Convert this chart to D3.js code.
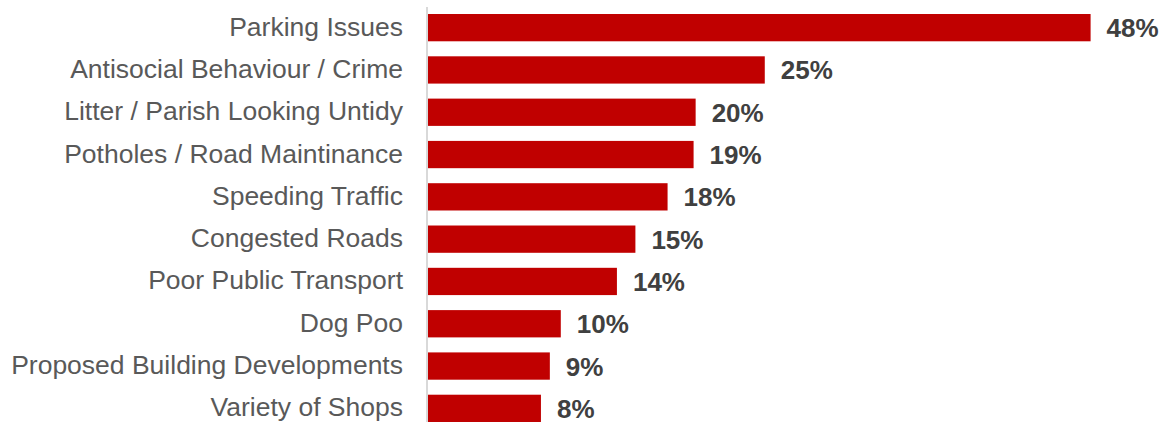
<!DOCTYPE html>
<html>
<head>
<meta charset="utf-8">
<script src="https://cdn.jsdelivr.net/npm/d3@7"></script>
<style>
  html, body { margin: 0; padding: 0; background: #fff; }
  svg { display: block; }
</style>
</head>
<body>
<svg id="chart" width="1161" height="422"></svg>
<script>
const categories = [
  "Parking Issues",
  "Antisocial Behaviour / Crime",
  "Litter / Parish Looking Untidy",
  "Potholes / Road Maintinance",
  "Speeding Traffic",
  "Congested Roads",
  "Poor Public Transport",
  "Dog Poo",
  "Proposed Building Developments",
  "Variety of Shops"
];
const values = [48.4, 24.6, 19.55, 19.4, 17.5, 15.15, 13.8, 9.7, 8.9, 8.25];

const W = 1161, H = 422;
const svg = d3.select("#chart");
const x0 = 428;
const x = d3.scaleLinear().domain([0, 50]).range([x0, x0 + 13.69 * 50]);
const y = d3.scaleBand().domain(categories).range([6.5, 429.5]).paddingInner(0.355).paddingOuter(0.1775);

const data = categories.map((c, i) => ({ c, v: values[i] }));

// bars
svg.append("g").selectAll("rect").data(data).join("rect")
  .attr("x", x(0))
  .attr("y", d => y(d.c))
  .attr("width", d => x(d.v) - x(0))
  .attr("height", y.bandwidth())
  .attr("fill", "#c00000");

// axis line
const yAxis = d3.axisLeft(y).tickSize(0).tickPadding(24);
const ag = svg.append("g").attr("transform", `translate(${x0 - 1},0)`).call(yAxis);
ag.select(".domain").attr("stroke", "#d9d9d9").attr("stroke-width", 2)
  .attr("d", `M0,7V${H}`);
ag.selectAll(".tick text")
  .attr("fill", "#595959")
  .attr("font-family", "Liberation Sans, Arial, sans-serif")
  .attr("font-size", "26.5px")
  .attr("dy", null)
  .attr("y", 8);

// value labels
svg.append("g").selectAll("text").data(data).join("text")
  .attr("x", d => x(d.v) + 16)
  .attr("y", d => y(d.c) + y.bandwidth() / 2 + 9.5)
  .attr("fill", "#404040")
  .attr("font-family", "Liberation Sans, Arial, sans-serif")
  .attr("font-weight", "bold")
  .attr("font-size", "26px")
  .text(d => Math.round(d.v) + "%");
</script>
</body>
</html>
